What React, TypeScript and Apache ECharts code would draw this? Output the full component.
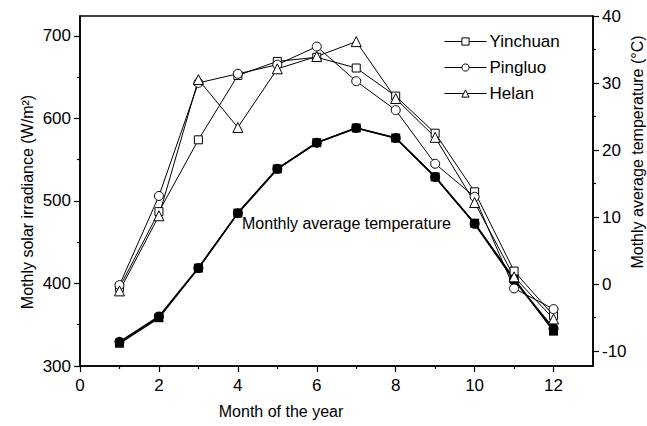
import React, { useEffect, useRef } from "react";
import * as echarts from "echarts";

const months = [1, 2, 3, 4, 5, 6, 7, 8, 9, 10, 11, 12];
const yinchuan = [395, 487, 574, 652, 669, 674, 661, 627, 582, 511, 415, 361];
const pingluo = [398, 506, 643, 654, 665, 687, 645, 610, 545, 505, 394, 369];
const helan = [391, 482, 647, 589, 660, 675, 693, 624, 577, 498, 408, 357];
const tempSquare = [-8.8, -5.0, 2.4, 10.6, 17.2, 21.1, 23.3, 21.8, 16.0, 9.1, 0.8, -7.0];
const tempCircle = [-8.6, -4.8, 2.4, 10.6, 17.2, 21.1, 23.3, 21.8, 16.0, 9.0, 0.6, -6.6];

const xMajor = [0, 2, 4, 6, 8, 10, 12];
const xMinor = [1, 3, 5, 7, 9, 11];
const leftMajor = [300, 400, 500, 600, 700];
const leftMinor = [350, 450, 550, 650];
const rightMajor = [-10, 0, 10, 20, 30, 40];
const rightMinor = [-5, 5, 15, 25, 35];

const FONT = "Liberation Sans, Arial, sans-serif";

export default function App() {
  const ref = useRef<HTMLDivElement>(null);
  useEffect(() => {
    const chart = echarts.init(ref.current!, null, { renderer: "svg" });
    const pair = (xs: number[], ys: number[]) => xs.map((x, i) => [x, ys[i]]);
    const axisLine = { show: true, onZero: false, lineStyle: { color: "#000", width: 1.5 } };
    const openLine = (name: string, data: number[], symbol: string, size: number) => ({
      name,
      type: "line",
      xAxisIndex: 0,
      yAxisIndex: 0,
      data: pair(months, data),
      symbol,
      symbolSize: size,
      showSymbol: true,
      lineStyle: { color: "#000", width: 1 },
      itemStyle: { color: "#fff", borderColor: "#000", borderWidth: 1 },
    });
    const tempLine = (name: string, data: number[], symbol: string, size: number) => ({
      name,
      type: "line",
      xAxisIndex: 0,
      yAxisIndex: 2,
      data: pair(months, data),
      symbol,
      symbolSize: size,
      lineStyle: { color: "#000", width: 1.6 },
      itemStyle: { color: "#000", borderColor: "#000", borderWidth: 0 },
    });
    chart.setOption({
      animation: false,
      backgroundColor: "#fff",
      grid: {
        left: 80,
        right: 54,
        top: 16,
        bottom: 60,
        show: true,
        borderColor: "#000",
        borderWidth: 1.5,
        backgroundColor: "transparent",
      },
      legend: {
        data: ["Yinchuan", "Pingluo", "Helan"],
        orient: "vertical",
        left: 439,
        top: 28,
        itemWidth: 42,
        itemHeight: 9,
        itemGap: 9,
        lineStyle: { width: 1 },
        itemStyle: { color: "#fff", borderColor: "#000", borderWidth: 1 },
        textStyle: { fontFamily: FONT, fontSize: 17, color: "#000", padding: [0, 0, 0, -2] },
      },
      xAxis: [
        {
          type: "value",
          min: 0,
          max: 13,
          axisLine,
          splitLine: { show: false },
          axisTick: { show: true, length: 6, customValues: xMajor, lineStyle: { color: "#000", width: 1.2 } },
          axisLabel: { customValues: xMajor, fontFamily: FONT, fontSize: 17, color: "#000", margin: 11 },
        },
        {
          type: "value",
          position: "bottom",
          min: 0,
          max: 13,
          axisLine: { show: false, onZero: false },
          splitLine: { show: false },
          axisTick: { show: true, length: 3, customValues: xMinor, lineStyle: { color: "#000", width: 1.2 } },
          axisLabel: { show: false },
        },
      ],
      yAxis: [
        {
          type: "value",
          position: "left",
          min: 300,
          max: 724,
          axisLine,
          splitLine: { show: false },
          axisTick: { show: true, length: 6, customValues: leftMajor, lineStyle: { color: "#000", width: 1.2 } },
          axisLabel: { customValues: leftMajor, fontFamily: FONT, fontSize: 17, color: "#000", margin: 9 },
        },
        {
          type: "value",
          position: "left",
          min: 300,
          max: 724,
          axisLine: { show: false, onZero: false },
          splitLine: { show: false },
          axisTick: { show: true, length: 3, customValues: leftMinor, lineStyle: { color: "#000", width: 1.2 } },
          axisLabel: { show: false },
        },
        {
          type: "value",
          position: "right",
          min: -12.2,
          max: 40,
          axisLine,
          splitLine: { show: false },
          axisTick: { show: true, length: 6, customValues: rightMajor, lineStyle: { color: "#000", width: 1.2 } },
          axisLabel: { customValues: rightMajor, fontFamily: FONT, fontSize: 17, color: "#000", margin: 9 },
        },
        {
          type: "value",
          position: "right",
          min: -12.2,
          max: 40,
          axisLine: { show: false, onZero: false },
          splitLine: { show: false },
          axisTick: { show: true, length: 3, customValues: rightMinor, lineStyle: { color: "#000", width: 1.2 } },
          axisLabel: { show: false },
        },
      ],
      graphic: [
        {
          type: "text",
          x: 27,
          y: 202,
          rotation: Math.PI / 2,
          style: {
            text: "Mothly solar irradiance (W/m²)",
            font: `16px ${FONT}`,
            fill: "#000",
            textAlign: "center",
            textVerticalAlign: "middle",
          },
        },
        {
          type: "text",
          x: 637,
          y: 152,
          rotation: Math.PI / 2,
          style: {
            text: "Mothly average temperature (°C)",
            font: `16px ${FONT}`,
            fill: "#000",
            textAlign: "center",
            textVerticalAlign: "middle",
          },
        },
        {
          type: "text",
          x: 281,
          y: 411,
          style: {
            text: "Month of the year",
            font: `16px ${FONT}`,
            fill: "#000",
            textAlign: "center",
            textVerticalAlign: "middle",
          },
        },
        {
          type: "text",
          x: 242,
          y: 223,
          style: {
            text: "Monthly average temperature",
            font: `16px ${FONT}`,
            fill: "#000",
            textAlign: "left",
            textVerticalAlign: "middle",
          },
        },
      ],
      series: [
        tempLine("TempCircle", tempCircle, "circle", 10),
        tempLine("TempSquare", tempSquare, "rect", 9),
        openLine("Yinchuan", yinchuan, "rect", 8),
        openLine("Pingluo", pingluo, "circle", 9),
        openLine("Helan", helan, "triangle", 10),
      ],
    });
    return () => chart.dispose();
  }, []);
  return (
    <div
      ref={ref}
      style={{ position: "fixed", left: 0, top: 0, width: 647, height: 426 }}
    />
  );
}
